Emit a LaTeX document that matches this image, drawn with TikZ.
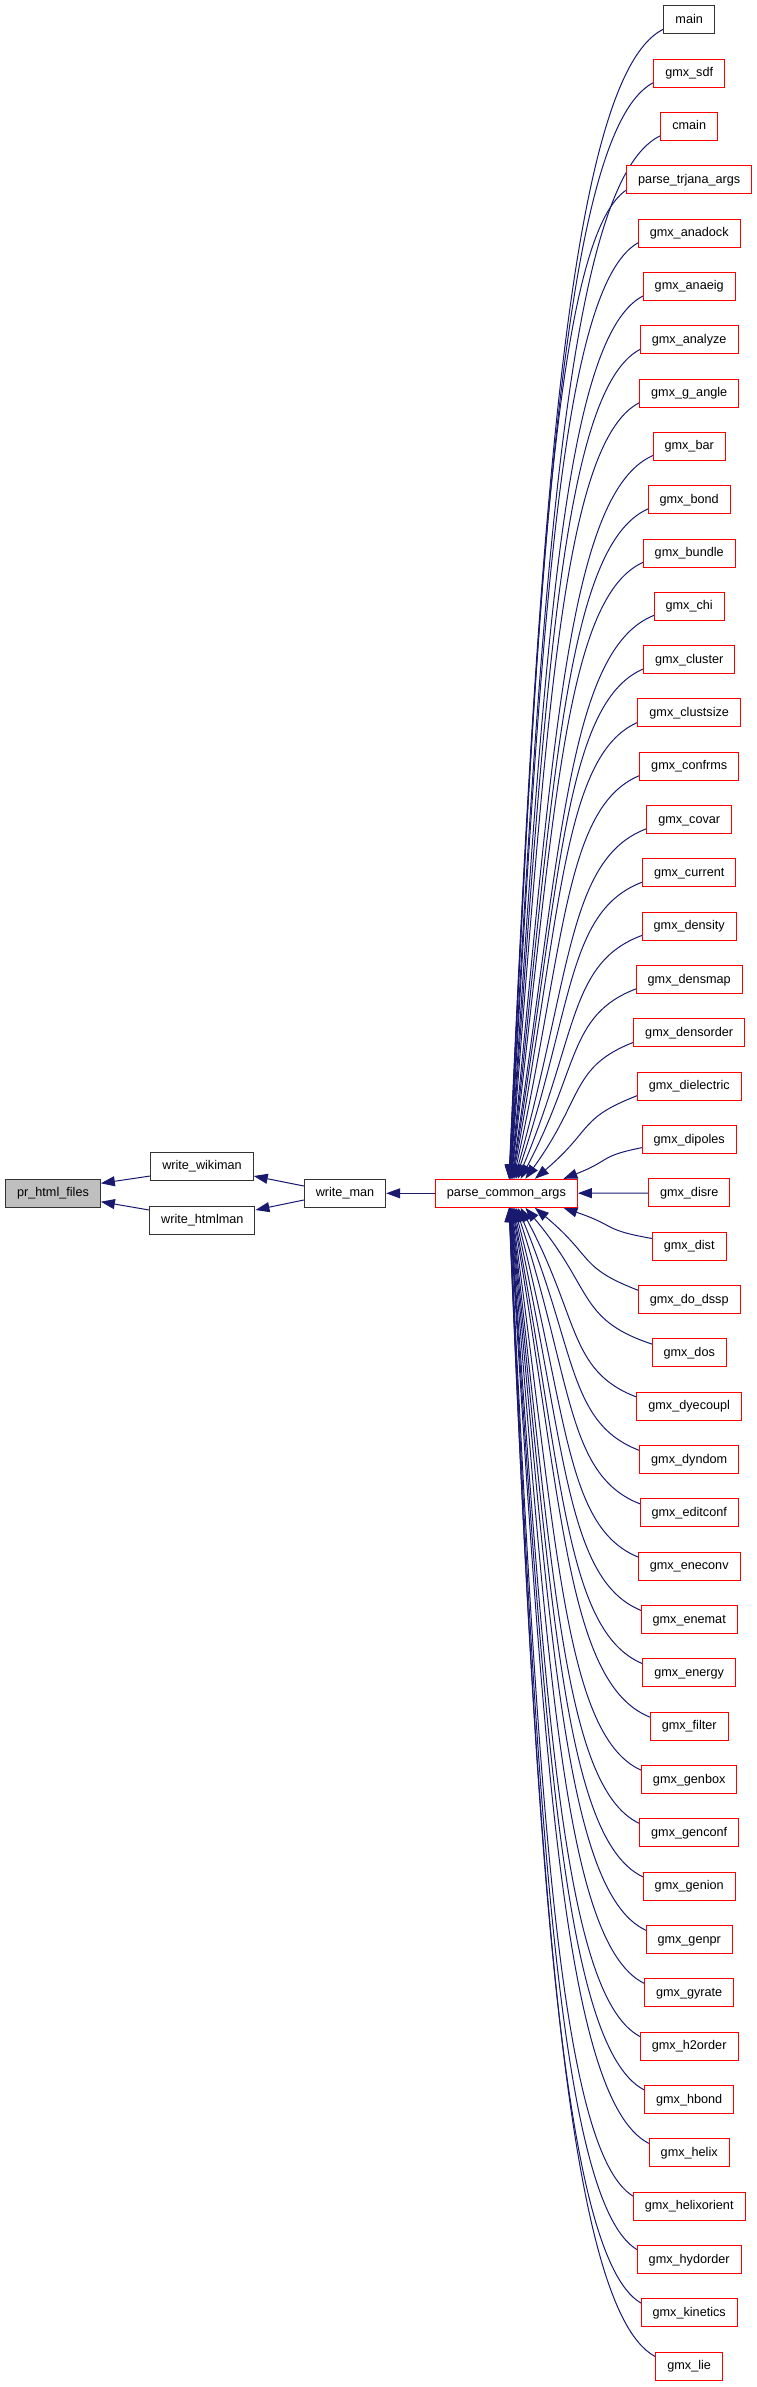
\documentclass[tikz,border=0pt]{standalone}
\usepackage{fontspec}
\setmainfont{Liberation Sans}
\usetikzlibrary{arrows.meta,calc,backgrounds}
\definecolor{edgeblue}{HTML}{191970}
\definecolor{nodered}{HTML}{FF0000}
\definecolor{nodegray}{HTML}{BFBFBF}
\definecolor{nodeblack}{HTML}{333333}
\tikzset{
  fnode/.style={draw=nodered, fill=white, line width=1pt, minimum height=28pt,
    inner xsep=11.5pt, inner ysep=0pt, text height=9.8pt, text depth=2.6pt,
    font=\fontsize{12.66pt}{15pt}\selectfont, anchor=center},
  bnode/.style={fnode, draw=nodeblack},
  hnode/.style={bnode, fill=nodegray},
  edge/.style={draw=edgeblue, line width=1pt, -{Triangle[length=14pt,width=10pt]}},
}
\begin{document}
\begin{tikzpicture}[x=1pt,y=1pt]
\useasboundingbox (0,0) rectangle (757,-2387);
% left part
\node[hnode] (pr) at (53,-1193.3) {pr\_html\_files};
\node[bnode] (wiki) at (202,-1166.3) {write\_wikiman};
\node[bnode] (html) at (202.3,-1220) {write\_htmlman};
\node[bnode] (wman) at (345,-1193.3) {write\_man};
\node[fnode] (pca) at (506.4,-1193.3) {parse\_common\_args};
% right column
\node[bnode] (r0) at (689.2,-19.7) {main};
\foreach \i/\t in {1/gmx\_sdf,2/cmain,3/parse\_trjana\_args,4/gmx\_anadock,5/gmx\_anaeig,
  6/gmx\_analyze,7/gmx\_g\_angle,8/gmx\_bar,9/gmx\_bond,10/gmx\_bundle,11/gmx\_chi,
  12/gmx\_cluster,13/gmx\_clustsize,14/gmx\_confrms,15/gmx\_covar,16/gmx\_current,
  17/gmx\_density,18/gmx\_densmap,19/gmx\_densorder,20/gmx\_dielectric,21/gmx\_dipoles,
  22/gmx\_disre,23/gmx\_dist,24/gmx\_do\_dssp,25/gmx\_dos,26/gmx\_dyecoupl,27/gmx\_dyndom,
  28/gmx\_editconf,29/gmx\_eneconv,30/gmx\_enemat,31/gmx\_energy,32/gmx\_filter,
  33/gmx\_genbox,34/gmx\_genconf,35/gmx\_genion,36/gmx\_genpr,37/gmx\_gyrate,
  38/gmx\_h2order,39/gmx\_hbond,40/gmx\_helix,41/gmx\_helixorient,42/gmx\_hydorder,
  43/gmx\_kinetics,44/gmx\_lie}{
  \node[fnode] (r\i) at (689.2,{-19.7-53.33*\i}) {\t};
}
\begin{scope}[on background layer]
\draw[edge] (pca) -- (wman);
\draw[edge] ([yshift=7.3pt]wman.west) -- ([yshift=-9.7pt]wiki.east);
\draw[edge] ([yshift=-6.7pt]wman.west) -- ([yshift=10pt]html.east);
\draw[edge] ([yshift=-9.7pt]wiki.west) -- ([yshift=10pt]pr.east);
\draw[edge] ([yshift=10pt]html.west) -- ([yshift=-8.4pt]pr.east);
\draw[edge] (r22) -- (pca);
% nodes above the hub
\foreach \i in {0,...,21}{
  \pgfmathsetmacro{\off}{57/(22-\i)}
  \pgfmathsetmacro{\tx}{506.4+\off}
  \draw[edge] let \p1=(r\i.south west),
     \n1={\x1+8}, \n2={\y1+8},
     \n3={\n1-\tx}, \n4={\n2+1179.3},
     \n5={min(0.62*\n3,100)}, \n6={min(0.3*\n4,25)},
     \n7={0.6*\n3*exp(-\n4/1000)}, \n8={0.6*\n4}
   in (\n1,\n2) .. controls (\n1-\n5,\n2-\n6) and (\tx+\n7,-1179.3+\n8) .. ([xshift=\off pt]pca.north);
}
% nodes below the hub
\foreach \i in {23,...,44}{
  \pgfmathsetmacro{\off}{57/(\i-22)}
  \pgfmathsetmacro{\tx}{506.4+\off}
  \draw[edge] let \p1=(r\i.north west),
     \n1={\x1+8}, \n2={\y1-8},
     \n3={\n1-\tx}, \n4={-1207.3-\n2},
     \n5={min(0.62*\n3,100)}, \n6={min(0.3*\n4,25)},
     \n7={0.6*\n3*exp(-\n4/1000)}, \n8={0.6*\n4}
   in (\n1,\n2) .. controls (\n1-\n5,\n2+\n6) and (\tx+\n7,-1207.3-\n8) .. ([xshift=\off pt]pca.south);
}
\end{scope}
\end{tikzpicture}
\end{document}
